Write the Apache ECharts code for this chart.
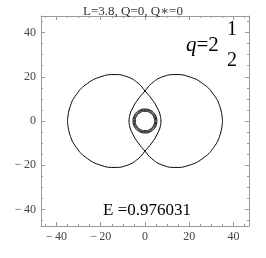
<!DOCTYPE html>
<html><head><meta charset="utf-8">
<script src="https://cdn.jsdelivr.net/npm/echarts@6/dist/echarts.min.js"></script>
<style>html,body{margin:0;padding:0;background:#fff}#c{width:266px;height:258px}</style>
</head><body><div id="c"></div>
<script>
const titleText = 'L=3.8, Q=0, Q\u2217=0';
const energyText = 'E =0.976031';
const majorTicks = [-40, -20, 0, 20, 40];
const minorTicks = [-45, -35, -30, -25, -15, -10, -5, 5, 10, 15, 25, 30, 35, 45];
// left leaf loop
const leftLoop = [[-35,0],[-34,6],[-31,12],[-26,17],[-20,20],[-14,21],[-8,20],[-3,17],[0,13.6],[3,10],[5.5,6],[7,2],[7.2,0],[7,-2],[5.5,-6],[3,-10],[0,-13.6],[-3,-17],[-8,-20],[-14,-21],[-20,-20],[-26,-17],[-31,-12],[-34,-6],[-35,0]];
const rightLoop = [[35,0],[34,6],[31,12],[26,17],[20,20],[14,21],[8,20],[3,17],[0,13.6],[-3,10],[-5.5,6],[-7,2],[-7.2,0],[-7,-2],[-5.5,-6],[-3,-10],[0,-13.6],[3,-17],[8,-20],[14,-21],[20,-20],[26,-17],[31,-12],[34,-6],[35,0]];
const ringOuter = [[5.4,0],[4.7,2.7],[2.7,4.7],[0,5.4],[-2.7,4.7],[-4.7,2.7],[-5.4,0],[-4.7,-2.7],[-2.7,-4.7],[0,-5.4],[2.7,-4.7],[4.7,-2.7],[5.4,0]];
const ringMid = [[4.9,0],[4.25,2.45],[2.45,4.25],[0,4.9],[-2.45,4.25],[-4.25,2.45],[-4.9,0],[-4.25,-2.45],[-2.45,-4.25],[0,-4.9],[2.45,-4.25],[4.25,-2.45],[4.9,0]];
const ringInner = [[4.4,0],[3.8,2.2],[2.2,3.8],[0,4.4],[-2.2,3.8],[-3.8,2.2],[-4.4,0],[-3.8,-2.2],[-2.2,-3.8],[0,-4.4],[2.2,-3.8],[3.8,-2.2],[4.4,0]];

const axCol = '#9a9a9a';
const lblCol = '#444';
const serif = '"Liberation Serif","DejaVu Serif",serif';
const fmt = v => v < 0 ? '\u2212\u2009' + Math.abs(v) : String(v);
function mkAxis(pos, major, showLabel, showLine){
  return {
    type:'value', min:-47, max:47, position:pos,
    axisLine:{show:showLine, onZero:false, lineStyle:{color:axCol, width:1}},
    axisTick:{show:true, inside:true, length: major?4:2, customValues: major?majorTicks:minorTicks, lineStyle:{color:axCol}},
    axisLabel:{show:showLabel, customValues: majorTicks, formatter: fmt, fontFamily: serif, fontSize:12, color: lblCol, margin:5},
    splitLine:{show:false}
  };
}
const chart = echarts.init(document.getElementById('c'), null, {renderer:'canvas'});
const line = d => ({type:'line', data:d, smooth:0.5, showSymbol:false, symbol:'none', lineStyle:{color:'#000', width:1}, xAxisIndex:0, yAxisIndex:0, animation:false});
chart.setOption({
  animation:false,
  title:{text:titleText, left:'center', top:0, textStyle:{fontFamily:serif, fontSize:13, fontWeight:'normal', color:'#333'}},
  grid:{left:41, top:16, width:208, height:210},
  xAxis:[mkAxis('bottom',true,true,true), mkAxis('bottom',false,false,false), mkAxis('top',true,false,true), mkAxis('top',false,false,false)],
  yAxis:[mkAxis('left',true,true,true), mkAxis('left',false,false,false), mkAxis('right',true,false,true), mkAxis('right',false,false,false)].map(a=>{a.min=-47.5;a.max=47.5;return a;}),
  series:[line(leftLoop), line(rightLoop), line(ringOuter), line(ringMid), line(ringInner)],
  graphic:[
    {type:'text', left:186, top:35, style:{text:'{i|q}=2', rich:{i:{fontStyle:'italic', fontFamily:serif, fontSize:21}}, fontFamily:serif, fontSize:21, fill:'#000'}},
    {type:'text', left:227, top:20, style:{text:'1', fontFamily:serif, fontSize:20, fill:'#000'}},
    {type:'text', left:227, top:51, style:{text:'2', fontFamily:serif, fontSize:20, fill:'#000'}},
    {type:'text', left:103, top:202, style:{text:energyText, fontFamily:serif, fontSize:17, fill:'#000'}}
  ]
});
</script></body></html>
